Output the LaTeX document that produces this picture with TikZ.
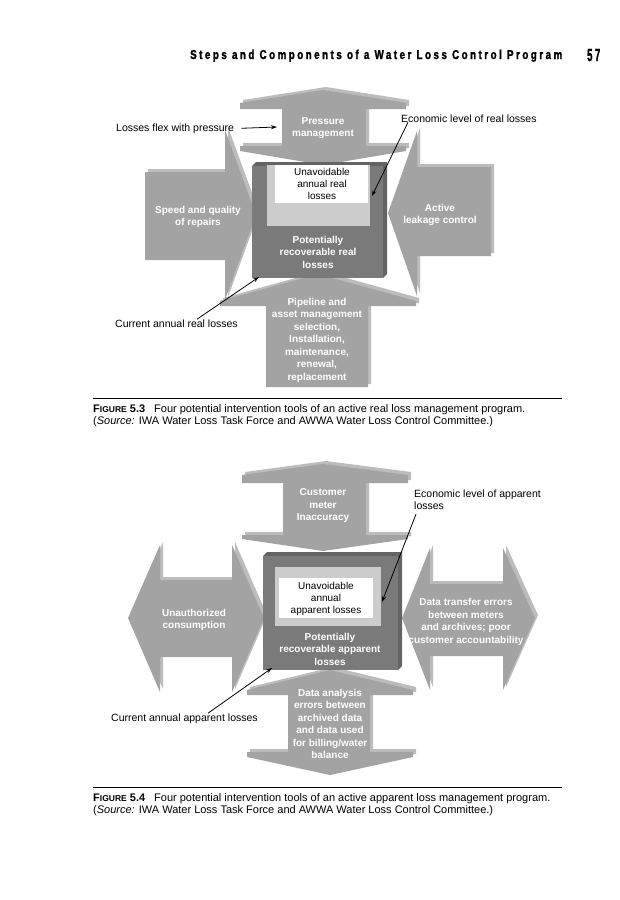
\documentclass[tikz,border=0pt]{standalone}
\usepackage{fontspec}
\setmainfont{Liberation Sans}
\newfontfamily\headfont[LetterSpace=16,FakeStretch=0.62,FakeBold=1.5]{Liberation Sans}
\usepackage{graphicx}
\usetikzlibrary{arrows.meta}
\definecolor{arrowgray}{RGB}{163,163,163}
\definecolor{arrowside}{RGB}{188,188,188}
\definecolor{boxgray}{RGB}{122,122,122}
\definecolor{boxside}{RGB}{100,100,100}
\definecolor{lightbox}{RGB}{204,204,204}

\begin{document}
\begin{tikzpicture}[x=1pt,y=-1pt,
	>={Stealth[length=6pt,width=4pt]},
	lbl/.style={font=\fontsize{10.5}{12.5}\selectfont, inner sep=0pt, anchor=base west},
	toolname/.style={font=\fontsize{10}{12.5}\selectfont\bfseries, text=white, align=center, inner sep=0pt},
	boxtext/.style={font=\fontsize{10}{12}\selectfont, align=center, inner sep=0pt},
	captext/.style={font=\fontsize{11}{12}\selectfont, inner sep=0pt, anchor=base west},
	pointer/.style={->, line width=0.8pt}]
	\useasboundingbox[fill=white] (0,0) rectangle (619,900);
	
	% running head
	\node[anchor=base west, inner sep=0pt] (runhead) at (190,59) {\resizebox{372pt}{9.3pt}{\headfont\bfseries Steps and Components of a Water Loss Control Program}};
	\node[anchor=base west, inner sep=0pt] (pagenum) at (587,61) {\resizebox{13pt}{12pt}{\headfont\bfseries 57}};
	
	% real losses: four arrows
	\foreach \s/\c in {3/arrowside,0/arrowgray}{
		\fill[\c,shift={(\s,-\s)}] (323,90) -- (406,103) -- (406,109) -- (366,109) -- (366,146) -- (406,146) -- (406,151) -- (323,165) -- (240,151) -- (240,146) -- (282,146) -- (282,109) -- (240,109) -- (240,103) -- cycle;
		\fill[\c,shift={(\s,-\s)}] (145,172) -- (225,172) -- (225,130) -- (256,215) -- (225,300) -- (225,260) -- (145,260) -- cycle;
		\fill[\c,shift={(\s,-\s)}] (388,213) -- (417,131) -- (417,167) -- (491,167) -- (491,256) -- (417,256) -- (417,296) -- cycle;
		\fill[\c,shift={(\s,-\s)}] (318,274) -- (416,301) -- (416,306) -- (368,306) -- (368,387) -- (266,387) -- (266,306) -- (220,306) -- (220,301) -- cycle;
	}
	% real losses: centre box
	\fill[boxside] (252,166) -- (256,162) -- (387,162) -- (387,274) -- (383,278) -- (383,166) -- cycle;
	\fill[boxgray] (252,166) rectangle (383,278);
	\fill[lightbox] (267,165) rectangle (370,226);
	\fill[white] (275,165) rectangle (368,203);
	
	\node[toolname] (pressure) at (323,128) {Pressure\\management};
	\node[toolname] (repairs) at (198,217) {Speed and quality\\of repairs};
	\node[toolname] (leakage) at (440,215) {Active\\leakage control};
	\node[toolname] (pipeline) at (317,340) {Pipeline and\\asset management\\selection,\\Installation,\\maintenance,\\renewal,\\replacement};
	\node[boxtext] (unavreal) at (322,184) {Unavoidable\\annual real\\losses};
	\node[toolname] (recovreal) at (318,252) {Potentially\\recoverable real\\losses};
	
	\node[lbl] (flex) at (116,131) {Losses flex with pressure};
	\node[lbl] (econreal) at (401,122) {Economic level of real losses};
	\node[lbl] (currreal) at (115,327) {Current annual real losses};
	\coordinate (flexend) at (277,127);
	\coordinate (econrealend) at (372,196);
	\coordinate (currrealend) at (259,277);
	\draw[pointer] ([xshift=7pt]flex.east) -- (flexend);
	\draw[pointer] ([xshift=7pt]econreal.south west) -- (econrealend);
	\draw[pointer] ([xshift=82pt]currreal.north west) -- (currrealend);
	
	\draw[line width=1pt] (93,398) -- (562,398);
	\node[captext] (cap53) at (93,412) {{\bfseries F{\fontsize{8.5}{9}\selectfont IGURE} 5.3}\hspace{9pt}Four potential intervention tools of an active real loss management program.};
	\node[captext] (src53) at (93,424) {(\textit{Source:} IWA Water Loss Task Force and AWWA Water Loss Control Committee.)};
	
	% apparent losses: four arrows
	\foreach \s/\c in {3/arrowside,0/arrowgray}{
		\fill[\c,shift={(\s,-\s)}] (323,464) -- (408,475) -- (408,483) -- (366,483) -- (366,535) -- (408,535) -- (408,539) -- (323,551) -- (242,539) -- (242,535) -- (283,535) -- (283,483) -- (242,483) -- (242,475) -- cycle;
		\fill[\c,shift={(\s,-\s)}] (128,618) -- (160,545) -- (160,580) -- (232,580) -- (232,545) -- (264,618) -- (232,692) -- (232,657) -- (160,657) -- (160,692) -- cycle;
		\fill[\c,shift={(\s,-\s)}] (402,618) -- (430,548) -- (430,584) -- (503,584) -- (503,548) -- (535,618) -- (503,690) -- (503,656) -- (430,656) -- (430,690) -- cycle;
		\fill[\c,shift={(\s,-\s)}] (330,670) -- (413,690) -- (413,695) -- (370,695) -- (370,752) -- (413,752) -- (413,757) -- (330,775) -- (247,757) -- (247,752) -- (288,752) -- (288,695) -- (247,695) -- (247,690) -- cycle;
	}
	% apparent losses: centre box
	\fill[boxside] (263,556) -- (267,552) -- (402,552) -- (402,666) -- (398,670) -- (398,556) -- cycle;
	\fill[boxgray] (263,556) rectangle (398,670);
	\fill[lightbox] (275,567) rectangle (381,626);
	\fill[white] (279,578) rectangle (373,618);
	
	\node[toolname] (meter) at (323,506) {Customer\\meter\\Inaccuracy};
	\node[toolname] (unauth) at (194,620) {Unauthorized\\consumption};
	\node[toolname] (transfer) at (466,622) {Data transfer errors\\between meters\\and archives; poor\\customer accountability};
	\node[toolname] (analysis) at (330,724) {Data analysis\\errors between\\archived data\\and data used\\for billing/water\\balance};
	\node[boxtext] (unavapp) at (326,599) {Unavoidable\\annual\\apparent losses};
	\node[toolname] (recovapp) at (330,649) {Potentially\\recoverable apparent\\losses};
	
	\node[lbl, anchor=north west, align=left] (econapp) at (414,489.5) {Economic level of apparent\\losses};
	\node[lbl] (currapp) at (111,721) {Current annual apparent losses};
	\coordinate (econappend) at (382,602);
	\coordinate (currappend) at (272,668);
	\draw[pointer] ([xshift=2pt,yshift=-4pt]econapp.south west) -- (econappend);
	\draw[pointer] ([xshift=97pt]currapp.north west) -- (currappend);
	
	\draw[line width=1pt] (93,787) -- (562,787);
	\node[captext] (cap54) at (93,801) {{\bfseries F{\fontsize{8.5}{9}\selectfont IGURE} 5.4}\hspace{9pt}Four potential intervention tools of an active apparent loss management program.};
	\node[captext] (src54) at (93,813) {(\textit{Source:} IWA Water Loss Task Force and AWWA Water Loss Control Committee.)};
\end{tikzpicture}
\end{document}
